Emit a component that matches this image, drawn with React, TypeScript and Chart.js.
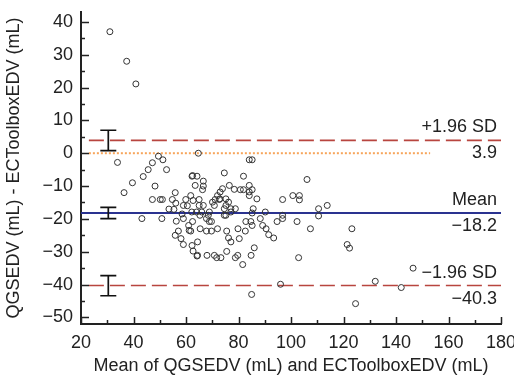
import React, { useEffect, useRef } from "react";
import { Chart, registerables } from "chart.js";
Chart.register(...registerables);

// Bland–Altman data: [mean of methods, difference]
const meanValues: number[] = [
  31.0, 37.4, 40.9, 33.9, 36.4, 39.6, 43.2, 43.7, 45.6, 47.2, 47.2, 48.2, 49.5, 50.2, 51.0, 51.2, 50.8, 52.6,
  54.8, 55.9, 56.1, 55.4, 56.3, 57.1, 55.9, 58.1, 59.0, 59.0, 59.9, 61.0, 61.2, 62.3, 62.7, 64.2, 62.3, 64.2,
  61.8, 63.5, 62.7, 64.0, 64.7, 66.6, 66.6, 66.3, 74.6, 81.9, 84.1, 85.2, 76.5, 78.4, 80.7, 84.1, 85.2, 84.1,
  87.0, 85.6, 85.2, 90.2, 88.3, 82.8, 84.7, 85.2, 89.2, 90.5, 91.5, 93.4, 94.7, 96.8, 96.8, 96.8, 100.7, 103.2,
  103.2, 106.1, 102.3, 107.4, 102.9, 110.5, 110.5, 113.8, 96.0, 85.0, 81.6, 79.7, 78.8, 75.5, 86.0, 84.8, 77.1,
  76.2, 80.3, 79.8, 82.6, 75.5, 72.0, 69.7, 67.8, 65.4, 70.8, 71.7, 73.3, 68.0, 64.4, 64.4, 61.8, 62.5, 67.8,
  68.9, 69.7, 68.5, 65.3, 66.0, 68.9, 62.2, 59.0, 65.0, 65.0, 66.6, 70.1, 70.8, 71.1, 72.0, 73.0, 73.9, 72.7,
  74.6, 74.6, 75.2, 76.2, 77.1, 78.8, 77.1, 75.2, 72.9, 75.2, 81.9, 84.1, 123.2, 121.4, 122.3, 132.1, 142.0,
  146.5, 124.6, 62.5, 53.5, 58.5, 60.5
];
const diffValues: number[] = [
  37.0, 28.0, 21.1, -2.8, -12.0, -9.0, -19.9, -7.1, -5.0, -2.9, -14.1, -10.0, -0.9, -14.1, -14.1, -2.0, -19.9, -5.0,
  -14.1, -12.0, -15.2, -17.1, -20.7, -23.7, -25.0, -26.0, -19.9, -27.8, -14.1, -22.0, -23.5, -28.1, -29.8, -31.3, -7.0, -7.0,
  -12.9, -9.8, -14.4, -17.9, 0.0, -8.5, -10.0, -11.1, -6.0, -7.0, -2.0, -2.0, -9.8, -11.0, -11.1, -9.8, -11.1, -11.8,
  -13.9, -16.9, -18.2, -17.9, -19.9, -20.8, -20.8, -22.0, -22.0, -23.0, -24.8, -25.8, -20.8, -19.9, -18.9, -14.1, -12.9, -12.9,
  -14.2, -8.0, -20.8, -23.0, -31.8, -16.9, -19.1, -15.9, -39.9, -43.0, -33.9, -31.1, -31.8, -29.9, -28.8, -31.1, -27.0,
  -25.8, -26.0, -23.0, -23.7, -23.7, -23.0, -23.7, -23.7, -23.0, -31.1, -31.8, -31.8, -31.1, -31.1, -27.0, -23.7, -20.8, -19.9,
  -20.8, -20.8, -18.9, -18.9, -17.9, -17.9, -17.9, -15.9, -14.1, -15.9, -15.9, -14.9, -15.9, -14.1, -12.9, -11.8, -10.8, -14.1,
  -16.9, -18.9, -15.9, -14.9, -16.9, -16.9, -17.9, -18.9, -13.9, -13.9, -11.1, -12.9, -23.0, -27.8, -28.9, -39.0, -40.9,
  -35.0, -45.8, -6.8, -17.0, -18.5, -16.0
];

const xTickValues = [20, 40, 60, 80, 100, 120, 140, 160, 180];
const xMinorTickValues = [30, 50, 70, 90, 110, 130, 150, 170];
const yTickValues = [-50, -40, -30, -20, -10, 0, 10, 20, 30, 40];
const yMinorTickValues = [-45, -35, -25, -15, -5, 5, 15, 25, 35];

const upperLoA = 3.9;
const meanDiff = -18.2;
const lowerLoA = -40.3;
const loaLineX = [23, 180];
const meanLineX = [20, 180];
const zeroLineX = [23, 153];
const ciX = 30.4;
const upperCI = [0.8, 7.0];
const meanCI = [-19.9, -16.5];
const lowerCI = [-43.4, -37.3];

const FONT = "'Liberation Sans', Arial, Helvetica, sans-serif";
const FS = 18;
const TEXT = "#222";

const fmt = (v: number) => (v < 0 ? "\u2212" + Math.abs(v).toFixed(1) : v.toFixed(1));

const innerTicks = {
  id: "innerTicks",
  afterDraw(chart: any) {
    const { ctx, chartArea, scales } = chart;
    const xs = scales.x;
    const ys = scales.y;
    ctx.save();
    ctx.strokeStyle = TEXT;
    ctx.lineWidth = 1.5;
    ctx.beginPath();
    const yTick = (v: number, len: number) => {
      const py = Math.round(ys.getPixelForValue(v)) + 0.5;
      ctx.moveTo(chartArea.left, py);
      ctx.lineTo(chartArea.left + len, py);
    };
    const xTick = (v: number, len: number) => {
      const px = Math.round(xs.getPixelForValue(v)) + 0.5;
      ctx.moveTo(px, chartArea.bottom);
      ctx.lineTo(px, chartArea.bottom - len);
    };
    yTickValues.forEach((v) => yTick(v, 8));
    yMinorTickValues.forEach((v) => yTick(v, 4));
    xTickValues.forEach((v) => xTick(v, 7));
    xMinorTickValues.forEach((v) => xTick(v, 4));
    ctx.stroke();
    ctx.restore();
  },
};

const annotations = {
  id: "baAnnotations",
  afterDatasetsDraw(chart: any) {
    const { ctx, chartArea, scales } = chart;
    const xs = scales.x;
    const ys = scales.y;
    ctx.save();
    // CI error bars
    ctx.strokeStyle = "#111";
    ctx.lineWidth = 1.7;
    const px = xs.getPixelForValue(ciX);
    const cap = 8;
    [upperCI, meanCI, lowerCI].forEach(([lo, hi]) => {
      const y1 = ys.getPixelForValue(lo);
      const y2 = ys.getPixelForValue(hi);
      ctx.beginPath();
      ctx.moveTo(px, y1);
      ctx.lineTo(px, y2);
      ctx.moveTo(px - cap, y1);
      ctx.lineTo(px + cap, y1);
      ctx.moveTo(px - cap, y2);
      ctx.lineTo(px + cap, y2);
      ctx.stroke();
    });
    // labels
    ctx.fillStyle = TEXT;
    ctx.font = `${FS}px ${FONT}`;
    ctx.textAlign = "right";
    ctx.textBaseline = "middle";
    const rx = chartArea.right - 4;
    const lab = (v: number, above: string, below: string) => {
      const py = ys.getPixelForValue(v);
      ctx.fillText(above, rx, py - 13);
      ctx.fillText(below, rx, py + 13);
    };
    lab(upperLoA, "+1.96 SD", fmt(upperLoA));
    lab(meanDiff, "Mean", fmt(meanDiff));
    lab(lowerLoA, "\u22121.96 SD", fmt(lowerLoA));
    ctx.restore();
  },
};

export default function App() {
  const ref = useRef<HTMLCanvasElement | null>(null);
  useEffect(() => {
    if (!ref.current) return;
    const pts = meanValues.map((x, i) => ({ x, y: diffValues[i] }));
    const hline = (xr: number[], y: number) => [
      { x: xr[0], y },
      { x: xr[1], y },
    ];
    const chart = new Chart(ref.current, {
      type: "scatter",
      data: {
        datasets: [
          {
            data: pts,
            pointStyle: "circle",
            pointRadius: 3,
            pointBorderWidth: 1,
            pointBorderColor: "#333",
            pointBackgroundColor: "rgba(255,255,255,0)",
            showLine: false,
            order: 0,
          },
          {
            data: hline(meanLineX, meanDiff),
            showLine: true,
            borderColor: "#2a3290",
            borderWidth: 2,
            pointRadius: 0,
            order: 1,
          },
          {
            data: hline(loaLineX, upperLoA),
            showLine: true,
            borderColor: "#b8453f",
            borderWidth: 1.6,
            borderDash: [15, 6],
            pointRadius: 0,
            order: 1,
          },
          {
            data: hline(loaLineX, lowerLoA),
            showLine: true,
            borderColor: "#b8453f",
            borderWidth: 1.6,
            borderDash: [15, 6],
            pointRadius: 0,
            order: 1,
          },
          {
            data: hline(zeroLineX, 0),
            showLine: true,
            borderColor: "#f7a45a",
            borderWidth: 2,
            borderDash: [2, 2],
            pointRadius: 0,
            order: 1,
          },
        ],
      },
      options: {
        animation: false,
        responsive: false,
        layout: { padding: { left: 0, right: 13, top: 12, bottom: 0 } },
        plugins: { legend: { display: false }, tooltip: { enabled: false } },
        scales: {
          x: {
            type: "linear",
            min: 20,
            max: 180,
            afterBuildTicks: (s: any) => {
              s.ticks = xTickValues.map((value) => ({ value }));
            },
            afterFit: (s: any) => {
              s.height = 54;
              s.paddingLeft = 0;
              s.paddingRight = 0;
            },
            grid: { display: true, drawOnChartArea: false, drawTicks: false },
            border: { display: true, color: TEXT, width: 2 },
            ticks: {
              color: TEXT,
              font: { family: FONT, size: FS },
              padding: 8,
              maxRotation: 0,
              autoSkip: false,
            },
            title: {
              display: true,
              text: "Mean of QGSEDV (mL) and ECToolboxEDV (mL)",
              color: TEXT,
              font: { family: FONT, size: FS },
              padding: { top: 0, bottom: 1 },
            },
          },
          y: {
            type: "linear",
            min: -52,
            max: 43,
            afterBuildTicks: (s: any) => {
              s.ticks = yTickValues.map((value) => ({ value }));
            },
            afterFit: (s: any) => {
              s.width = 81;
              s.paddingTop = 0;
              s.paddingBottom = 0;
            },
            grid: { display: true, drawOnChartArea: false, drawTicks: false },
            border: { display: true, color: TEXT, width: 2 },
            ticks: {
              color: TEXT,
              font: { family: FONT, size: FS },
              padding: 8,
              autoSkip: false,
              callback: (v: any) => (Number(v) < 0 ? "\u2212" + Math.abs(Number(v)) : String(v)),
            },
            title: {
              display: true,
              text: "QGSEDV (mL) - ECToolboxEDV (mL)",
              color: TEXT,
              font: { family: FONT, size: FS },
              padding: { top: 3, bottom: 0 },
            },
          },
        },
      },
      plugins: [innerTicks, annotations],
    });
    return () => chart.destroy();
  }, []);
  return (
    <div style={{ position: "absolute", left: 0, top: 0, width: 514, height: 378, background: "#fff" }}>
      <canvas ref={ref} width={514} height={378} style={{ display: "block" }} />
    </div>
  );
}
